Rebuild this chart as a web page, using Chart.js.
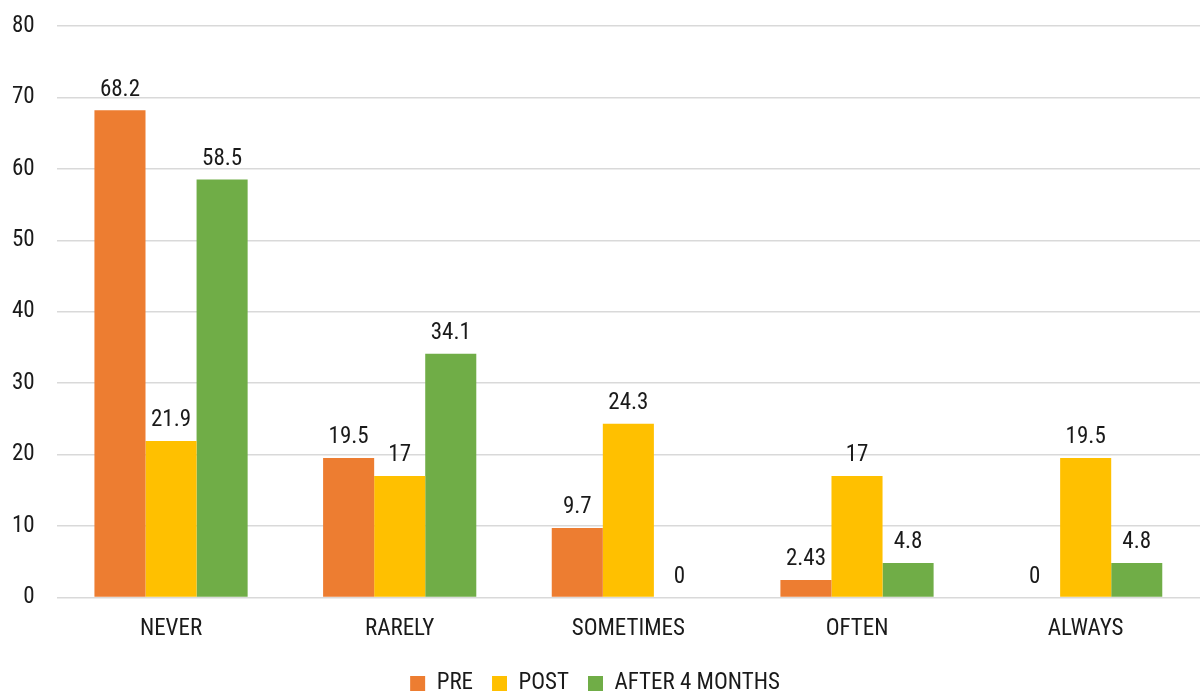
<!DOCTYPE html>
<html>
<head>
<meta charset="utf-8">
<script src="https://cdn.jsdelivr.net/npm/chart.js@4"></script>
<style>
  html, body { margin: 0; padding: 0; background: #fff; }
  #wrap { width: 1200px; height: 691px; }
</style>
</head>
<body>
<div id="wrap"><canvas id="freqChart"></canvas></div>
<script>
const categories = ['NEVER', 'RARELY', 'SOMETIMES', 'OFTEN', 'ALWAYS'];
const preValues = [68.2, 19.5, 9.7, 2.43, 0];
const postValues = [21.9, 17, 24.3, 17, 19.5];
const afterValues = [58.5, 34.1, 0, 4.8, 4.8];
const yTicks = [0, 10, 20, 30, 40, 50, 60, 70, 80];

const FONT = "'Roboto Condensed', 'Liberation Sans Narrow', 'Roboto', sans-serif";

// draws the value above each bar
const valueLabels = {
  id: 'valueLabels',
  afterDatasetsDraw(chart) {
    const ctx = chart.ctx;
    ctx.save();
    ctx.font = '23px ' + FONT;
    ctx.fillStyle = '#1a1a1a';
    ctx.textAlign = 'center';
    ctx.textBaseline = 'bottom';
    chart.data.datasets.forEach(function (ds, i) {
      const meta = chart.getDatasetMeta(i);
      meta.data.forEach(function (bar, j) {
        ctx.fillText(String(ds.data[j]), bar.x, bar.y - 9);
      });
    });
    ctx.restore();
  }
};

document.addEventListener('DOMContentLoaded', function () {
  const ctx = document.getElementById('freqChart').getContext('2d');
  new Chart(ctx, {
    type: 'bar',
    data: {
      labels: categories,
      datasets: [
        { label: 'PRE', data: preValues, backgroundColor: '#ED7D31' },
        { label: 'POST', data: postValues, backgroundColor: '#FFC000' },
        { label: 'AFTER 4 MONTHS', data: afterValues, backgroundColor: '#70AD47' },
      ],
    },
    options: {
      responsive: true,
      maintainAspectRatio: false,
      animation: false,
      datasets: { bar: { barPercentage: 1.0, categoryPercentage: 0.67 } },
      layout: { padding: { top: 26, right: 0, left: -10, bottom: -14 } },
      plugins: {
        legend: {
          position: 'bottom',
          labels: {
            font: { family: FONT, size: 23 },
            color: '#1a1a1a',
            boxWidth: 15,
            boxHeight: 15,
            padding: 19,
          },
        },
        tooltip: { enabled: false },
      },
      scales: {
        x: {
          grid: { display: false },
          border: { display: false },
          ticks: { font: { family: FONT, size: 23 }, color: '#1a1a1a', padding: 10 },
        },
        y: {
          min: 0,
          max: 80,
          afterBuildTicks(axis) { axis.ticks = yTicks.map(v => ({ value: v })); },
          afterFit(axis) { axis.paddingTop = 0; },
          grid: { color: '#d9d9d9', lineWidth: 1.5, drawTicks: false },
          border: { display: false },
          ticks: { font: { family: FONT, size: 23 }, color: '#1a1a1a', padding: 22 },
        },
      },
    },
    plugins: [valueLabels],
  });
});
</script>
</body>
</html>
